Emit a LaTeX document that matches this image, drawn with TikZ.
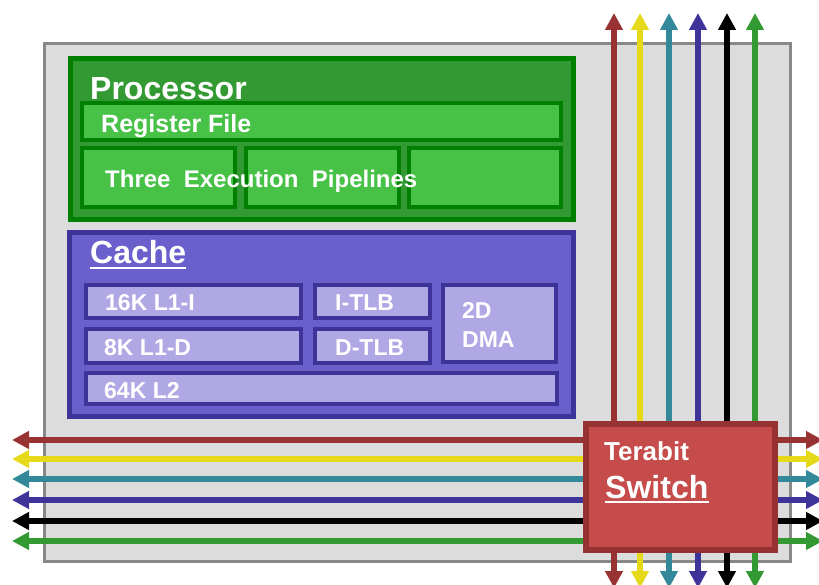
\documentclass[tikz,border=0pt]{standalone}
\usepackage{fontspec}
\setmainfont{Liberation Sans}
\usetikzlibrary{arrows.meta}
\definecolor{chipfill}{HTML}{DCDCDC}
\definecolor{chipline}{HTML}{888888}
\definecolor{procfill}{HTML}{339933}
\definecolor{procline}{HTML}{008000}
\definecolor{subgreen}{HTML}{47C247}
\definecolor{cachefill}{HTML}{6B5FCB}
\definecolor{cacheline}{HTML}{3D3399}
\definecolor{cachesub}{HTML}{B0A8E4}
\definecolor{swfill}{HTML}{C64B4B}
\definecolor{swline}{HTML}{963232}
\definecolor{cred}{HTML}{993333}
\definecolor{cyellow}{HTML}{E5D919}
\definecolor{cteal}{HTML}{33889A}
\definecolor{cblue}{HTML}{3D3399}
\definecolor{cblack}{HTML}{000000}
\definecolor{cgreen}{HTML}{339933}
\tikzset{
  boxnode/.style={draw, rectangle, inner sep=0pt, outer sep=0pt},
  lbl/.style={anchor=base west, inner sep=0pt, text=white, font=\bfseries},
  bus/.style={line width=5.5pt, -{Triangle[length=17pt,width=17pt]}},
  busboth/.style={line width=5.5pt, {Triangle[length=17pt,width=17pt]}-{Triangle[length=17pt,width=17pt]}},
  uline/.style={draw=white, line width=2pt}
}
\begin{document}
\begin{tikzpicture}[x=1pt,y=-1pt]
\useasboundingbox (0,0) rectangle (819,585);
\clip (0,0) rectangle (819,585);
% chip
\node[boxnode, fill=chipfill, draw=chipline, line width=3pt, minimum width=746pt, minimum height=518pt] (chip) at (417.5,302.5) {};
% processor
\node[boxnode, fill=procfill, draw=procline, line width=5pt, minimum width=503pt, minimum height=161pt] (proc) at (322,139) {};
\node[boxnode, fill=subgreen, draw=procline, line width=4pt, minimum width=479pt, minimum height=37pt] (reg) at (321.5,121.5) {};
\node[boxnode, fill=subgreen, draw=procline, line width=4pt, minimum width=153pt, minimum height=59pt] (ex1) at (158.5,177.5) {};
\node[boxnode, fill=subgreen, draw=procline, line width=4pt, minimum width=153pt, minimum height=59pt] (ex2) at (322.5,177.5) {};
\node[boxnode, fill=subgreen, draw=procline, line width=4pt, minimum width=152pt, minimum height=59pt] (ex3) at (485,177.5) {};
\node[lbl, font=\bfseries\fontsize{32}{36}\selectfont] (proctxt) at (90,100) {Processor};
\node[lbl, font=\bfseries\fontsize{25}{30}\selectfont] (regtxt) at (101,133) {Register File};
\node[lbl, font=\bfseries\fontsize{24}{28}\selectfont] (extxt) at (105,188) {Three\ \ Execution\ \ Pipelines};
% cache
\node[boxnode, fill=cachefill, draw=cacheline, line width=5pt, minimum width=504pt, minimum height=184pt] (cache) at (321.5,324.5) {};
\node[boxnode, fill=cachesub, draw=cacheline, line width=4pt, minimum width=215pt, minimum height=33pt] (l1i) at (193.5,301.5) {};
\node[boxnode, fill=cachesub, draw=cacheline, line width=4pt, minimum width=215pt, minimum height=34pt] (l1d) at (193.5,346) {};
\node[boxnode, fill=cachesub, draw=cacheline, line width=4pt, minimum width=115pt, minimum height=33pt] (itlb) at (372.5,301.5) {};
\node[boxnode, fill=cachesub, draw=cacheline, line width=4pt, minimum width=115pt, minimum height=34pt] (dtlb) at (372.5,346) {};
\node[boxnode, fill=cachesub, draw=cacheline, line width=4pt, minimum width=113pt, minimum height=77pt] (dma) at (499.5,323.5) {};
\node[boxnode, fill=cachesub, draw=cacheline, line width=4pt, minimum width=471pt, minimum height=31pt] (l2) at (321.5,388.5) {};
\node[lbl, font=\bfseries\fontsize{32}{36}\selectfont] (cachetxt) at (90,264) {Cache};
\draw[uline] ([yshift=-4pt]cachetxt.base west) -- ([yshift=-4pt]cachetxt.base east);
\node[lbl, font=\bfseries\fontsize{23}{28}\selectfont] (l1itxt) at (105,311) {16K L1-I};
\node[lbl, font=\bfseries\fontsize{23}{28}\selectfont] (l1dtxt) at (104,355) {8K L1-D};
\node[lbl, font=\bfseries\fontsize{23}{28}\selectfont] (itlbtxt) at (335,311) {I-TLB};
\node[lbl, font=\bfseries\fontsize{23}{28}\selectfont] (dtlbtxt) at (335,355) {D-TLB};
\node[lbl, font=\bfseries\fontsize{23}{28}\selectfont] (dmatxt1) at (462,319) {2D};
\node[lbl, font=\bfseries\fontsize{23}{28}\selectfont] (dmatxt2) at (462,347) {DMA};
\node[lbl, font=\bfseries\fontsize{23}{28}\selectfont] (l2txt) at (104,398) {64K L2};
% buses
\foreach \x/\c [count=\i] in {614/cred,640/cyellow,669/cteal,698/cblue,727/cblack,755/cgreen}{
  \coordinate (vt\i) at (\x,13);
  \coordinate (vb\i) at (\x,588);
  \draw[busboth, draw=\c, fill=\c] (vt\i) -- (vb\i);
}
\foreach \y/\c [count=\i] in {440/cred,459/cyellow,479/cteal,500/cblue,521/cblack,541/cgreen}{
  \coordinate (hl\i) at (12,\y);
  \coordinate (hr\i) at (823,\y);
  \draw[busboth, draw=\c, fill=\c] (hl\i) -- (hr\i);
}
% switch
\node[boxnode, fill=swfill, draw=swline, line width=6pt, minimum width=189pt, minimum height=126pt] (switch) at (680.5,487) {};
\node[lbl, font=\bfseries\fontsize{26}{30}\selectfont] (tbtxt) at (604,460) {Terabit};
\node[lbl, font=\bfseries\fontsize{32}{36}\selectfont] (swtxt) at (605,498) {Switch};
\draw[uline] ([yshift=-4pt]swtxt.base west) -- ([yshift=-4pt]swtxt.base east);
\end{tikzpicture}
\end{document}
